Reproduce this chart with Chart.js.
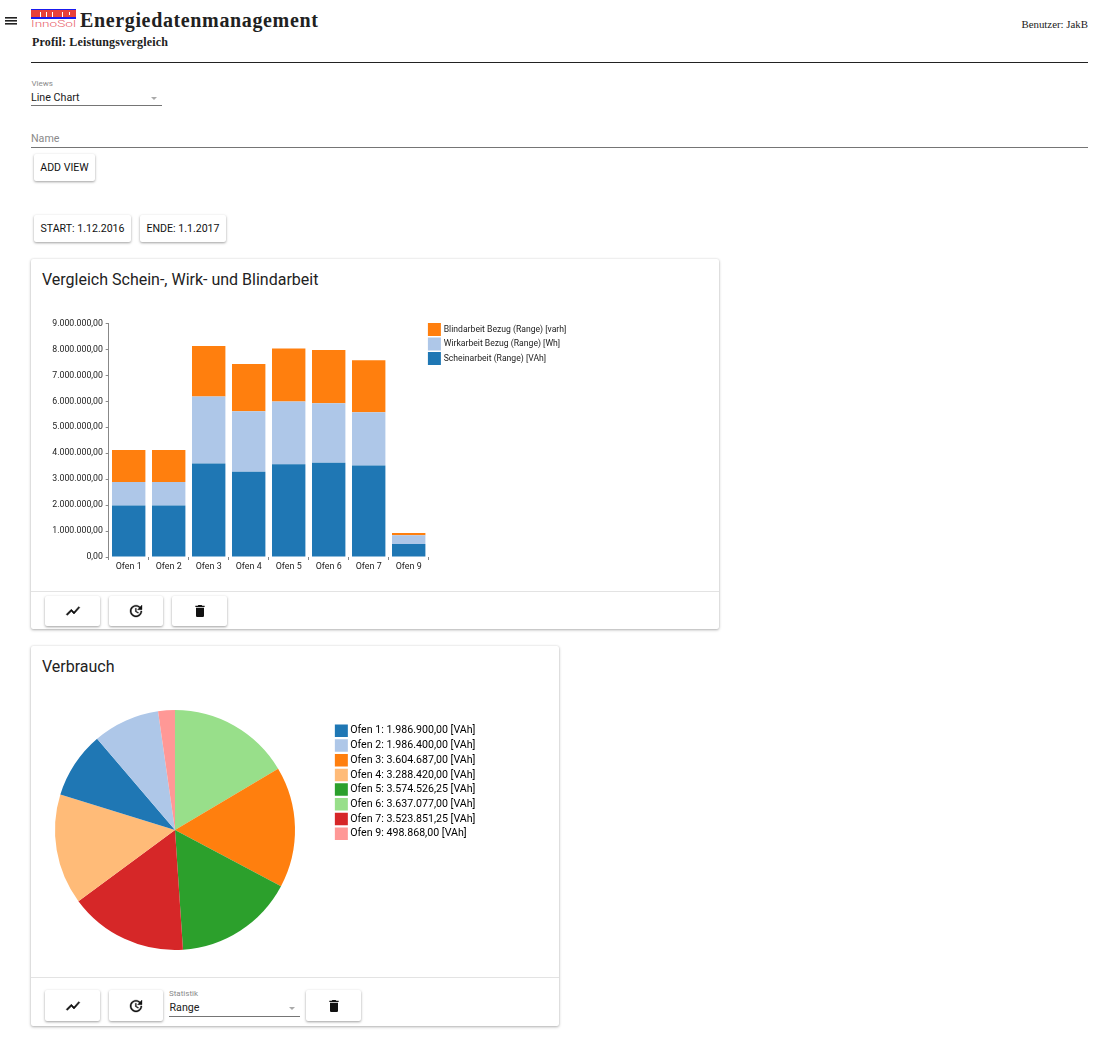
<!DOCTYPE html>
<html><head><meta charset="utf-8">
<script src="https://cdn.jsdelivr.net/npm/chart.js@4/dist/chart.umd.js"></script>
<style>
html,body{margin:0;padding:0;background:#fff;font-family:Roboto,sans-serif;color:#212121}
body{position:relative;width:1097px;height:1039px;overflow:hidden}
.a{position:absolute;white-space:nowrap}
.serif{font-family:"Liberation Serif",serif;color:#212121}
.btn{position:absolute;background:#fff;border-radius:2px;box-shadow:0 1px 3px rgba(0,0,0,.28),0 1px 2px rgba(0,0,0,.12);font-size:12px;display:flex;align-items:center;justify-content:center;color:#111;white-space:nowrap}
.card{position:absolute;background:#fff;box-shadow:0 1px 3px rgba(0,0,0,.3),0 0 2px rgba(0,0,0,.1);border-radius:2px}
.line{position:absolute;height:1px;background:#757575}
.arrow{position:absolute;width:0;height:0;border-left:3.5px solid transparent;border-right:3.5px solid transparent;border-top:3.5px solid #aaa}
canvas{position:absolute}
</style></head><body>
<svg class="a" style="left:5px;top:17px" width="13" height="10"><rect y="0" width="12" height="1.6" fill="#222"/><rect y="3" width="12" height="1.6" fill="#222"/><rect y="6" width="12" height="1.6" fill="#222"/></svg>
<svg class="a" style="left:31px;top:9px" width="46" height="18"><rect y="0" width="45" height="1" fill="#1a1aee"/><rect y="1" width="45" height="7" fill="#e8403a"/><rect x="9" y="3" width="1" height="5" fill="#fff"/><rect x="15" y="3" width="1" height="5" fill="#fff"/><rect x="21" y="3" width="1" height="5" fill="#fff"/><rect x="31" y="3" width="1" height="5" fill="#fff"/><rect x="38" y="3" width="1" height="3" fill="#fff"/><rect y="8" width="45" height="2" fill="#1a1aee"/><text x="0" y="17.5" font-family="Roboto" font-weight="300" font-size="9.5" fill="#e9606a" textLength="45" lengthAdjust="spacingAndGlyphs">InnoSol</text></svg>
<div class="a serif" style="left:80px;top:7px;font-size:20px;font-weight:bold;letter-spacing:.64px;line-height:26px">Energiedatenmanagement</div>
<div class="a serif" style="left:32px;top:35px;font-size:12px;font-weight:bold;letter-spacing:.15px;line-height:14px">Profil: Leistungsvergleich</div>
<div class="a serif" style="right:9px;top:17px;font-size:10.85px;line-height:14px">Benutzer: JakB</div>
<div class="a" style="left:31px;top:62px;width:1057px;height:1px;background:#222"></div>
<div class="a" style="left:31.5px;top:79px;font-size:8px;color:#8a8a8a">Views</div>
<div class="a" style="left:31px;top:91px;font-size:10.7px">Line Chart</div>
<div class="arrow" style="left:150.5px;top:97px"></div>
<div class="line" style="left:31px;top:105px;width:131px"></div>
<div class="a" style="left:31px;top:132px;font-size:10.7px;color:#8a8a8a">Name</div>
<div class="line" style="left:31px;top:147px;width:1057px"></div>
<div class="btn" style="left:34px;top:154px;width:61px;height:27px;font-size:10.6px">ADD VIEW</div>
<div class="btn" style="left:34px;top:215px;width:97px;height:27px;font-size:10.6px">START: 1.12.2016</div>
<div class="btn" style="left:140px;top:215px;width:86px;height:27px;font-size:10.6px">ENDE: 1.1.2017</div>

<div class="card" style="left:31px;top:259px;width:688px;height:370px"></div>
<div class="a" style="left:42px;top:270px;font-size:16px;line-height:20px;color:#222">Vergleich Schein-, Wirk- und Blindarbeit</div>
<canvas id="barChart" style="left:31px;top:300px" width="688" height="290"></canvas>
<div class="a" style="left:31px;top:591px;width:688px;height:1px;background:#e3e3e3"></div>
<div class="btn" style="left:45px;top:596px;width:55px;height:30px"><svg width="16" height="16" viewBox="0 0 24 24"><path d="M3.5 18.49l6-6.01 4 4L22 6.92l-1.41-1.41-7.09 7.97-4-4L2 16.99z" fill="#111" stroke="#111"/></svg></div>
<div class="btn" style="left:109px;top:596px;width:54px;height:30px"><svg width="16" height="16" viewBox="0 0 24 24"><path d="M21 10.12h-6.78l2.74-2.82c-2.73-2.7-7.15-2.8-9.88-.1-2.73 2.71-2.73 7.08 0 9.79s7.15 2.71 9.88 0C18.32 15.65 19 14.08 19 12.1h2c0 1.98-.88 4.55-2.64 6.29-3.51 3.48-9.21 3.48-12.72 0-3.5-3.47-3.53-9.11-.02-12.58s9.14-3.47 12.65 0L21 3v7.12zM12.5 8v4.25l3.5 2.08-.72 1.21L11 13V8h1.5z" fill="#111" stroke="#111" stroke-width=".5"/></svg></div>
<div class="btn" style="left:172px;top:596px;width:55px;height:30px"><svg width="16" height="16" viewBox="0 0 24 24"><path d="M6 19c0 1.1.9 2 2 2h8c1.1 0 2-.9 2-2V7H6v12zM19 4h-3.5l-1-1h-5l-1 1H5v2h14V4z" fill="#111"/></svg></div>

<div class="card" style="left:31px;top:646px;width:528px;height:380px"></div>
<div class="a" style="left:42px;top:657px;font-size:16px;line-height:20px;color:#222">Verbrauch</div>
<canvas id="pieChart" style="left:31px;top:690px" width="528" height="280"></canvas>
<div class="a" style="left:31px;top:977px;width:528px;height:1px;background:#e3e3e3"></div>
<div class="btn" style="left:45px;top:990px;width:55px;height:31px"><svg width="16" height="16" viewBox="0 0 24 24"><path d="M3.5 18.49l6-6.01 4 4L22 6.92l-1.41-1.41-7.09 7.97-4-4L2 16.99z" fill="#111" stroke="#111"/></svg></div>
<div class="btn" style="left:109px;top:990px;width:54px;height:31px"><svg width="16" height="16" viewBox="0 0 24 24"><path d="M21 10.12h-6.78l2.74-2.82c-2.73-2.7-7.15-2.8-9.88-.1-2.73 2.71-2.73 7.08 0 9.79s7.15 2.71 9.88 0C18.32 15.65 19 14.08 19 12.1h2c0 1.98-.88 4.55-2.64 6.29-3.51 3.48-9.21 3.48-12.72 0-3.5-3.47-3.53-9.11-.02-12.58s9.14-3.47 12.65 0L21 3v7.12zM12.5 8v4.25l3.5 2.08-.72 1.21L11 13V8h1.5z" fill="#111" stroke="#111" stroke-width=".5"/></svg></div>
<div class="a" style="left:169px;top:989px;font-size:8px;color:#8a8a8a">Statistik</div>
<div class="a" style="left:169.5px;top:1001px;font-size:10.7px">Range</div>
<div class="arrow" style="left:289px;top:1007px"></div>
<div class="line" style="left:169px;top:1016px;width:131px"></div>
<div class="btn" style="left:306px;top:990px;width:55px;height:31px"><svg width="16" height="16" viewBox="0 0 24 24"><path d="M6 19c0 1.1.9 2 2 2h8c1.1 0 2-.9 2-2V7H6v12zM19 4h-3.5l-1-1h-5l-1 1H5v2h14V4z" fill="#111"/></svg></div>

<script>
const ofenLabels = ['Ofen 1','Ofen 2','Ofen 3','Ofen 4','Ofen 5','Ofen 6','Ofen 7','Ofen 9'];
const scheinarbeit = [1986900,1986400,3604687,3288420,3574526.25,3637077,3523851.25,498868];
const wirkarbeit = [906000,902000,2581000,2332000,2416000,2293000,2056000,338000];
const blindarbeit = [1235000,1240000,1950000,1820000,2050000,2050000,2005000,90000];
const seriesNames = ['Scheinarbeit (Range) [VAh]','Wirkarbeit Bezug (Range) [Wh]','Blindarbeit Bezug (Range) [varh]'];
const seriesColors = ['#1f77b4','#aec7e8','#ff7f0e'];
const pieColors = ['#1f77b4','#aec7e8','#ff7f0e','#ffbb78','#2ca02c','#98df8a','#d62728','#ff9896'];

const de = v => v.toLocaleString('de-DE',{minimumFractionDigits:2,maximumFractionDigits:2});
const legendAt = (x,y) => ({id:'legendAt',afterLayout(c){const l=c.legend,w=l.width,h=l.height;l.left=x;l.right=x+w;l.top=y;l.bottom=y+h;}});

new Chart(document.getElementById('barChart'),{
  type:'bar',
  data:{labels:ofenLabels,datasets:[scheinarbeit,wirkarbeit,blindarbeit].map((d,i)=>({label:seriesNames[i],data:d,backgroundColor:seriesColors[i],barPercentage:.835,categoryPercentage:1}))},
  options:{responsive:false,animation:false,
    layout:{padding:{left:0,top:23.5,right:290.3,bottom:0}},
    scales:{
      x:{stacked:true,afterFit(s){s.height=33},border:{display:false},grid:{drawOnChartArea:false,drawTicks:true,tickLength:3,color:'#888'},ticks:{color:'#222',font:{family:'Roboto',size:8.9},padding:1,maxRotation:0,autoSkip:false}},
      y:{stacked:true,min:0,max:9000000,afterFit(s){s.width=77.7},border:{display:true,color:'#888'},grid:{drawOnChartArea:false,drawTicks:true,tickLength:3,color:'#888'},ticks:{stepSize:1000000,color:'#222',font:{family:'Roboto',size:8.75},padding:2.8,callback:v=>de(v)}}
    },
    plugins:{tooltip:{enabled:false},title:{display:false},
      legend:{position:'chartArea',align:'start',reverse:true,labels:{color:'#222',font:{family:'Roboto',size:8.65},padding:4.5,boxWidth:10,boxHeight:10,
        generateLabels(c){return Chart.defaults.plugins.legend.labels.generateLabels(c).map(o=>({...o,lineWidth:3,strokeStyle:o.fillStyle}))}}}}
  },
  plugins:[legendAt(393.9,20.1)]
});

const order = scheinarbeit.map((v,i)=>i).sort((a,b)=>scheinarbeit[b]-scheinarbeit[a]);
new Chart(document.getElementById('pieChart'),{
  type:'pie',
  data:{labels:order.map(i=>ofenLabels[i]),datasets:[{data:order.map(i=>scheinarbeit[i]),backgroundColor:order.map(i=>pieColors[i]),borderWidth:0}]},
  options:{responsive:false,animation:false,
    layout:{padding:{left:24,top:20,right:264,bottom:20}},
    plugins:{tooltip:{enabled:false},
      legend:{position:'chartArea',align:'start',labels:{color:'#222',font:{family:'Roboto',size:10.65},padding:4.05,boxWidth:7,boxHeight:6.5,
        generateLabels(c){return ofenLabels.map((n,i)=>({text:n+': '+de(scheinarbeit[i])+' [VAh]',fillStyle:pieColors[i],strokeStyle:pieColors[i],lineWidth:6,hidden:false,index:i}))}}}}
  },
  plugins:[legendAt(302.8,31.4)]
});
</script>
</body></html>
